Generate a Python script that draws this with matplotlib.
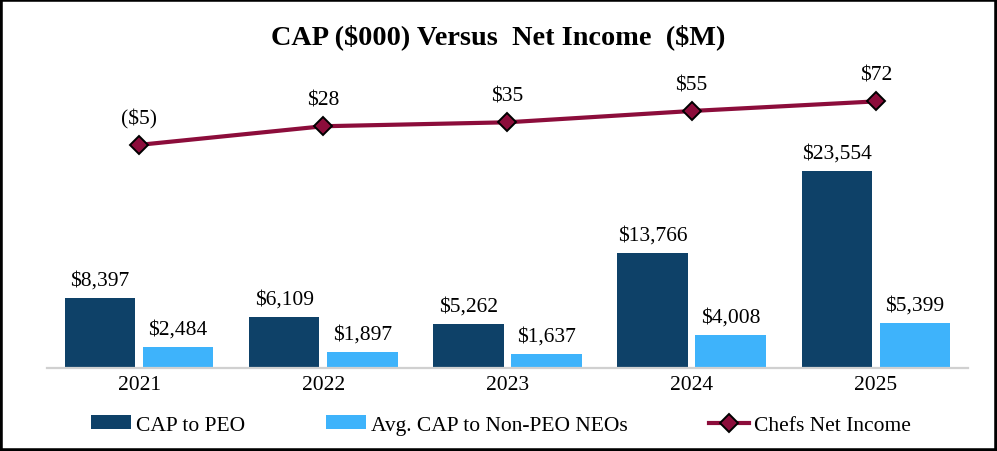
import numpy as np
import matplotlib
matplotlib.use('Agg')
import matplotlib.pyplot as plt
from matplotlib.patches import Rectangle

plt.rcParams['font.family'] = ['Liberation Serif', 'DejaVu Serif']
plt.rcParams['text.parse_math'] = False

years = ['2021', '2022', '2023', '2024', '2025']
cap_peo = [8397, 6109, 5262, 13766, 23554]
cap_non_peo = [2484, 1897, 1637, 4008, 5399]
net_income = [-5, 28, 35, 55, 72]

DARK = '#0E4168'
LIGHT = '#3EB3FB'
MAROON = '#8C0D3B'
FS = 15.5


def money(v):
    return f'(${-v:,})' if v < 0 else f'${v:,}'


fig = plt.figure(figsize=(9.97, 4.52), dpi=100)
ax = fig.add_axes([0.0471, 0.1836, 0.9238, 0.6836])
ax2 = ax.twinx()

x = np.arange(len(years))
w = 0.383
b1 = ax.bar(x - 0.212, cap_peo, w, color=DARK, label='CAP to PEO')
b2 = ax.bar(x + 0.212, cap_non_peo, w, color=LIGHT, label='Avg. CAP to Non-PEO NEOs')

for bars, vals in ((b1, cap_peo), (b2, cap_non_peo)):
    for bar, v in zip(bars, vals):
        ax.annotate(money(v), (bar.get_x() + bar.get_width() / 2, v),
                    xytext=(0, 6), textcoords='offset points',
                    ha='center', va='bottom', fontsize=FS)

ln, = ax2.plot(x, net_income, color=MAROON, lw=3, marker='D', markersize=9,
               markerfacecolor=MAROON, markeredgecolor='black', markeredgewidth=1.4,
               label='Chefs Net Income', zorder=5)
for xi, v in zip(x, net_income):
    ax2.annotate(money(v), (xi, v), xytext=(0, 12), textcoords='offset points',
                 ha='center', va='bottom', fontsize=FS)

ax.set_xlim(-0.5, len(years) - 0.5)
ax.set_ylim(0, 37000)
ax2.set_ylim(-400, 147)

ax.set_xticks(x)
ax.set_xticklabels(years, fontsize=FS)
ax.tick_params(axis='x', length=0, pad=5)
ax.set_yticks([])
ax2.set_yticks([])
for a in (ax, ax2):
    for s in ('top', 'right', 'left'):
        a.spines[s].set_visible(False)
ax2.spines['bottom'].set_visible(False)
ax.spines['bottom'].set_color('#D0D0D0')
ax.spines['bottom'].set_linewidth(1.6)

fig.text(0.5, 1 - 37 / 452, 'CAP ($000) Versus  Net Income  ($M)', ha='center', va='center',
         fontsize=20.3, fontweight='bold')

fig.legend(handles=[b1, b2, ln], loc='center left', bbox_to_anchor=(91 / 997, 1 - 426 / 452),
           ncol=3, frameon=False, fontsize=FS, handlelength=1.85, handleheight=0.6,
           handletextpad=0.25, columnspacing=3.75, borderpad=0, borderaxespad=0)

fig.patches.append(Rectangle((0, 0), 1, 1, transform=fig.transFigure, fill=False,
                             edgecolor='black', lw=4, clip_on=False))

fig.savefig('out.png', dpi=100)
